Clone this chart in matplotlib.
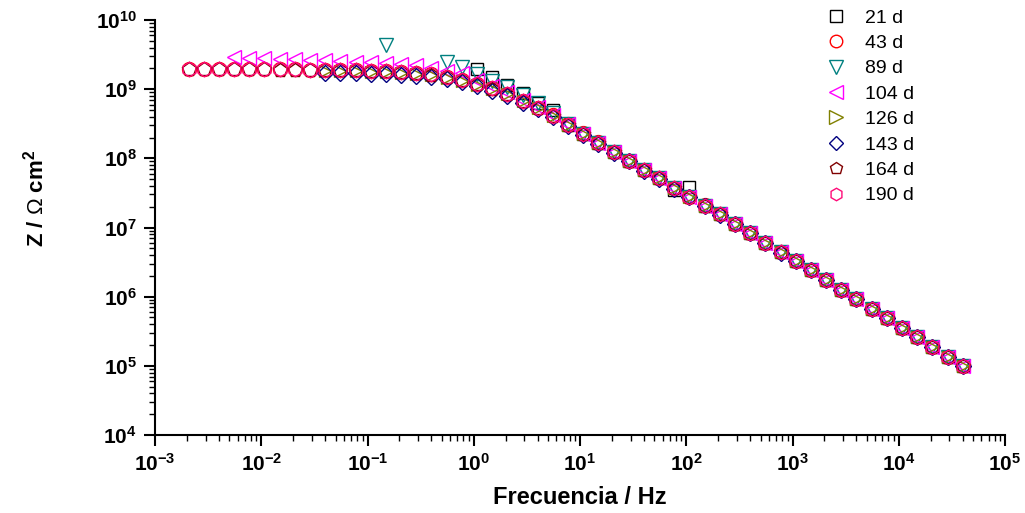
import numpy as np
import matplotlib
matplotlib.use("Agg")
import matplotlib.pyplot as plt
from matplotlib.ticker import FixedLocator, LogLocator, NullFormatter

nan = np.nan

# Frequencies (Hz)
freq = [0.00207, 0.00288, 0.00400, 0.00556, 0.00772,
        0.0107, 0.0149, 0.0207, 0.0288, 0.0400, 0.0556, 0.0772,
        0.107, 0.149, 0.207, 0.288, 0.400, 0.556, 0.772,
        1.07, 1.49, 2.07, 2.88, 4.00, 5.56, 7.72,
        10.7, 14.9, 20.7, 28.8, 40.0, 55.6, 77.2,
        107, 149, 207, 288, 400, 556, 772,
        1072, 1490, 2070, 2880, 4000, 5560, 7720,
        10700, 14900, 20700, 28800, 40000]

# |Z| (ohm cm2) for each exposure time
z_21d = [nan, nan, nan, nan, nan,
         nan, nan, nan, nan, nan, nan, nan,
         nan, nan, nan, nan, nan, nan, nan,
         1.95e9, 1.48e9, 1.15e9, 8.8e8, 6.4e8, 5.0e8, 3.05e8,
         2.25e8, 1.66e8, 1.23e8, 9.1e7, 6.7e7, 5.2e7, 3.45e7,
         3.8e7, 2.05e7, 1.56e7, 1.12e7, 8.3e6, 5.96e6, 4.4e6,
         3.27e6, 2.42e6, 1.74e6, 1.25e6, 9.2e5, 6.6e5, 4.9e5,
         3.5e5, 2.6e5, 1.87e5, 1.34e5, 9.9e4]
z_43d = [1.96e9, 1.96e9, 1.95e9, 1.95e9, 1.95e9,
         1.94e9, 1.94e9, 1.93e9, 1.92e9, 1.91e9, 1.90e9, 1.88e9,
         1.86e9, 1.83e9, 1.77e9, 1.71e9, 1.63e9, 1.49e9, 1.35e9,
         1.18e9, 1.03e9, 8.6e8, 6.8e8, 5.4e8, 4.2e8, 3.1e8,
         2.35e8, 1.72e8, 1.25e8, 9.2e7, 6.8e7, 5.2e7, 3.75e7,
         2.8e7, 2.15e7, 1.57e7, 1.13e7, 8.3e6, 5.96e6, 4.45e6,
         3.27e6, 2.42e6, 1.74e6, 1.25e6, 9.2e5, 6.6e5, 4.9e5,
         3.5e5, 2.65e5, 1.87e5, 1.34e5, 9.9e4]
z_89d = [nan, nan, nan, nan, nan,
         nan, nan, nan, nan, nan, nan, nan,
         nan, 4.3e9, nan, nan, nan, 2.5e9, 2.1e9,
         1.65e9, 1.3e9, 1.07e9, 8.1e8, 6.3e8, 4.5e8, 3.1e8,
         2.28e8, 1.68e8, 1.24e8, 9.2e7, 6.8e7, 5.2e7, 3.75e7,
         2.8e7, 2.06e7, 1.58e7, 1.13e7, 8.4e6, 6.0e6, 4.45e6,
         3.3e6, 2.44e6, 1.75e6, 1.26e6, 9.3e5, 6.65e5, 4.95e5,
         3.52e5, 2.62e5, 1.89e5, 1.35e5, 1.0e5]
z_104d = [nan, nan, nan, 2.95e9, 2.85e9,
          2.8e9, 2.75e9, 2.7e9, 2.65e9, 2.6e9, 2.55e9, 2.5e9,
          2.45e9, 2.4e9, 2.3e9, 2.2e9, 2.05e9, 1.85e9, 1.7e9,
          1.35e9, 1.1e9, 9.0e8, 7.0e8, 5.5e8, 4.2e8, 3.1e8,
          2.28e8, 1.69e8, 1.25e8, 9.2e7, 6.8e7, 5.25e7, 3.75e7,
          2.8e7, 2.06e7, 1.58e7, 1.13e7, 8.4e6, 6.0e6, 4.45e6,
          3.3e6, 2.44e6, 1.76e6, 1.26e6, 9.3e5, 6.65e5, 4.95e5,
          3.52e5, 2.62e5, 1.89e5, 1.35e5, 1.0e5]
z_126d = [nan, nan, nan, nan, nan,
          nan, nan, nan, nan, 1.85e9, 1.84e9, 1.82e9,
          1.80e9, 1.77e9, 1.72e9, 1.66e9, 1.58e9, 1.46e9, 1.32e9,
          1.16e9, 1.01e9, 8.4e8, 6.7e8, 5.3e8, 4.1e8, 3.0e8,
          2.24e8, 1.66e8, 1.23e8, 9.1e7, 6.7e7, 5.2e7, 3.7e7,
          2.75e7, 2.04e7, 1.56e7, 1.12e7, 8.3e6, 5.96e6, 4.4e6,
          3.27e6, 2.42e6, 1.74e6, 1.25e6, 9.2e5, 6.6e5, 4.9e5,
          3.5e5, 2.6e5, 1.87e5, 1.34e5, 9.9e4]
z_143d = [nan, nan, nan, nan, nan,
          nan, nan, nan, nan, 1.72e9, 1.71e9, 1.70e9,
          1.68e9, 1.66e9, 1.62e9, 1.57e9, 1.50e9, 1.40e9, 1.27e9,
          1.10e9, 9.5e8, 8.0e8, 6.4e8, 5.1e8, 4.0e8, 2.95e8,
          2.2e8, 1.63e8, 1.21e8, 9.0e7, 6.6e7, 5.1e7, 3.65e7,
          2.72e7, 2.02e7, 1.54e7, 1.11e7, 8.2e6, 5.9e6, 4.35e6,
          3.24e6, 2.4e6, 1.72e6, 1.24e6, 9.1e5, 6.55e5, 4.85e5,
          3.47e5, 2.58e5, 1.85e5, 1.33e5, 9.8e4]
z_164d = [1.94e9, 1.94e9, 1.94e9, 1.93e9, 1.93e9,
          1.93e9, 1.92e9, 1.92e9, 1.91e9, 1.90e9, 1.89e9, 1.87e9,
          1.85e9, 1.82e9, 1.76e9, 1.70e9, 1.62e9, 1.48e9, 1.34e9,
          1.17e9, 1.02e9, 8.5e8, 6.7e8, 5.3e8, 4.1e8, 3.0e8,
          2.24e8, 1.66e8, 1.23e8, 9.1e7, 6.7e7, 5.2e7, 3.7e7,
          2.75e7, 2.04e7, 1.56e7, 1.12e7, 8.3e6, 5.96e6, 4.4e6,
          3.27e6, 2.42e6, 1.74e6, 1.25e6, 9.2e5, 6.6e5, 4.9e5,
          3.5e5, 2.6e5, 1.87e5, 1.34e5, 9.9e4]
z_190d = [1.96e9, 1.96e9, 1.95e9, 1.95e9, 1.95e9,
          1.94e9, 1.94e9, 1.93e9, 1.92e9, 1.91e9, 1.90e9, 1.88e9,
          1.86e9, 1.83e9, 1.77e9, 1.71e9, 1.63e9, 1.49e9, 1.35e9,
          1.18e9, 1.03e9, 8.5e8, 6.7e8, 5.3e8, 4.1e8, 3.0e8,
          2.24e8, 1.66e8, 1.23e8, 9.1e7, 6.7e7, 5.2e7, 3.7e7,
          2.75e7, 2.04e7, 1.56e7, 1.12e7, 8.3e6, 5.96e6, 4.4e6,
          3.27e6, 2.42e6, 1.74e6, 1.25e6, 9.2e5, 6.6e5, 4.9e5,
          3.5e5, 2.6e5, 1.87e5, 1.34e5, 9.9e4]

labels = ["21 d", "43 d", "89 d", "104 d", "126 d", "143 d", "164 d", "190 d"]
series = [z_21d, z_43d, z_89d, z_104d, z_126d, z_143d, z_164d, z_190d]
markers = ["s", "o", "v", "<", ">", "D", "p", "h"]
colors = ["#000000", "#FF0000", "#008080", "#FF00FF", "#808000", "#000080", "#800000", "#FF0A78"]
msizes = [8, 10, 10, 10, 8.5, 8.0, 10, 10.5]
legend_msizes = [8, 9, 10, 10, 10, 7, 9, 9]

x_ticks_exp = [-3, -2, -1, 0, 1, 2, 3, 4, 5]
y_ticks_exp = [4, 5, 6, 7, 8, 9, 10]

plt.rcParams["font.family"] = ["Liberation Sans", "DejaVu Sans"]
plt.rcParams["mathtext.fontset"] = "custom"
plt.rcParams["mathtext.rm"] = "Liberation Sans"
plt.rcParams["mathtext.bf"] = "Liberation Sans:bold"
plt.rcParams["mathtext.it"] = "Liberation Sans:italic"

fig = plt.figure(figsize=(10.25, 5.13), dpi=100)
ax = fig.add_axes([155 / 1025, 78 / 513, 850 / 1025, 415 / 513])

for z, lab, m, c, ms in zip(series, labels, markers, colors, msizes):
    ax.plot(freq, z, linestyle="none", marker=m, markersize=ms,
            markerfacecolor="none", markeredgecolor=c, markeredgewidth=1.0,
            label=lab, clip_on=False)

ax.set_xscale("log")
ax.set_yscale("log")
ax.set_xlim(1e-3, 1e5)
ax.set_ylim(1e4, 1e10)

ax.xaxis.set_major_locator(FixedLocator([10.0 ** e for e in x_ticks_exp]))
ax.yaxis.set_major_locator(FixedLocator([10.0 ** e for e in y_ticks_exp]))
ax.set_xticklabels([r"$\mathbf{10^{%d}}$" % e for e in x_ticks_exp])
ax.set_yticklabels([r"$\mathbf{10^{%d}}$" % e for e in y_ticks_exp])
ax.xaxis.set_minor_locator(LogLocator(base=10, subs=np.arange(2, 10), numticks=20))
ax.yaxis.set_minor_locator(LogLocator(base=10, subs=np.arange(2, 10), numticks=20))
ax.xaxis.set_minor_formatter(NullFormatter())
ax.yaxis.set_minor_formatter(NullFormatter())

for s in ["top", "right"]:
    ax.spines[s].set_visible(False)
for s in ["left", "bottom"]:
    ax.spines[s].set_linewidth(1.5)
ax.tick_params(which="major", direction="out", length=8, width=1.5, labelsize=15, pad=5)
ax.tick_params(which="minor", direction="out", length=4, width=1.0)

ax.set_xlabel("Frecuencia / Hz", fontsize=17, fontweight="bold", labelpad=8)
fig.text(36 / 1025, 1 - 198 / 513, r"$\mathbf{Z\ /\ }\Omega\ \mathbf{cm^{2}}$",
         rotation=90, fontsize=16, ha="center", va="center")

leg = ax.legend(loc="upper left", bbox_to_anchor=(826 / 1025, 1 - 9 / 513),
                bbox_transform=fig.transFigure, frameon=False, fontsize=14,
                handlelength=1.0, handletextpad=1.0, labelspacing=0.4,
                borderaxespad=0, borderpad=0)
for h, lms in zip(leg.legend_handles, legend_msizes):
    h.set_markersize(lms)

fig.savefig("out.png", dpi=100)
